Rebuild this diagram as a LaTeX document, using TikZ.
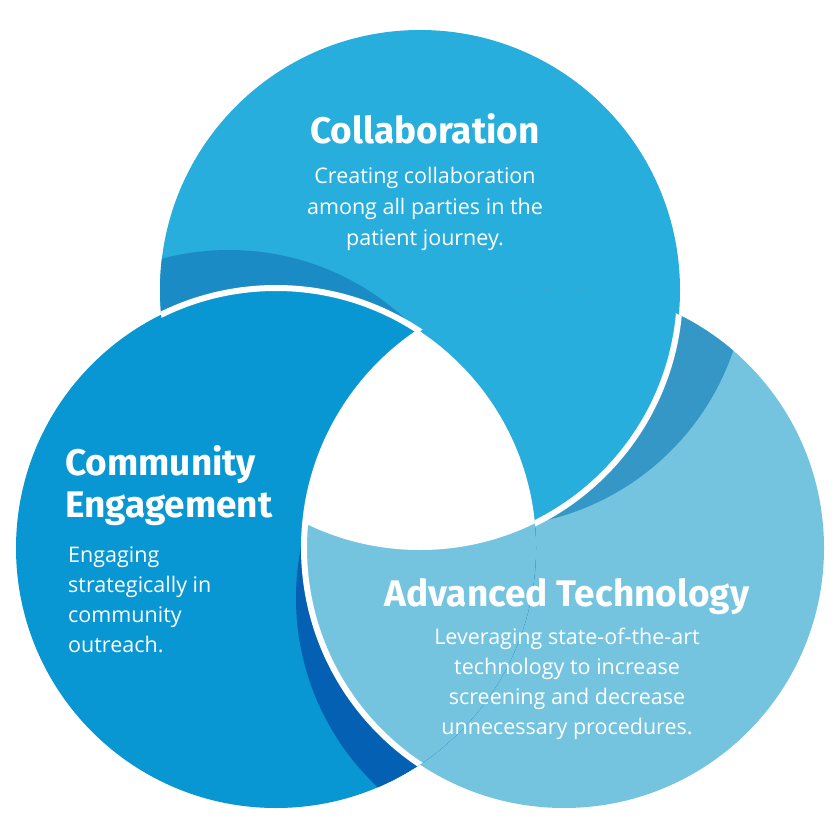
\documentclass[tikz,border=0pt]{standalone}
\usepackage{fontspec}
\setmainfont{Open Sans}
\newfontfamily\ttlfont{Fira Sans}
\definecolor{cT}{HTML}{27AEDC}
\definecolor{cL}{HTML}{0897D3}
\definecolor{cR}{HTML}{74C4E0}
\definecolor{sT}{HTML}{1A8BC4}
\definecolor{sR}{HTML}{3597C6}
\definecolor{sL}{HTML}{0360B2}
\begin{document}
\begin{tikzpicture}[x=1pt,y=-1pt,
  ttl/.style={text=white,inner sep=0pt,font=\ttlfont\bfseries\fontsize{37}{42}\selectfont},
  body/.style={text=white,inner sep=0pt,font=\fontsize{21.5}{30.5}\selectfont},
  border/.style={draw=white,line width=6pt}]
\useasboundingbox (0,0) rectangle (840,840);
\def\r{260}
\coordinate (T) at (420,290);
\coordinate (L) at (276,548);
\coordinate (R) at (564,548);
% disks
\fill[cT] (T) circle (\r);
\fill[cR] (R) circle (\r);
\fill[cL] (L) circle (\r);
% shadows
\begin{scope}\clip (T) circle (\r);
  \fill[sT] ([shift={(-47,-38)}]L) circle (\r);\end{scope}
\begin{scope}\clip (R) circle (\r);
  \fill[sR] ([shift={(67,-23)}]T) circle (\r);\end{scope}
\begin{scope}\clip (L) circle (\r);
  \fill[sL] ([shift={(-8,50)}]R) circle (\r);\end{scope}
% upper circle fills within lower ones
\begin{scope}\clip (T) circle (\r);
  \fill[cL] (L) circle (\r); \draw[border] (L) circle (\r);\end{scope}
\begin{scope}\clip (R) circle (\r);
  \fill[cT] (T) circle (\r); \draw[border] (T) circle (\r);\end{scope}
\begin{scope}\clip (L) circle (\r);
  \fill[cR] (R) circle (\r); \draw[border] (R) circle (\r);\end{scope}
% white centre
\begin{scope}\clip (T) circle (\r);\clip (L) circle (\r);
  \fill[white] (R) circle (\r);\end{scope}
% texts
\node[ttl,anchor=base] (t1) at (425,143) {Collaboration};
\node[body,align=center,anchor=base] (b1) at (425,183) {Creating collaboration};
\node[body,anchor=base] (b1b) at (425,214) {among all parties in the};
\node[body,anchor=base] (b1c) at (425,245) {patient journey.};
\node[ttl,anchor=base west] (t2) at (65,475) {Community};
\node[ttl,anchor=base west] (t2b) at (65,517) {Engagement};
\node[body,anchor=base west] (b2) at (68,562) {Engaging};
\node[body,anchor=base west] (b2b) at (68,592) {strategically in};
\node[body,anchor=base west] (b2c) at (68,622) {community};
\node[body,anchor=base west] (b2d) at (68,652) {outreach.};
\node[ttl,anchor=base] (t3) at (567,606) {Advanced Technology};
\node[body,anchor=base] (b3) at (567,644) {Leveraging state-of-the-art};
\node[body,anchor=base] (b3b) at (567,674) {technology to increase};
\node[body,anchor=base] (b3c) at (567,704) {screening and decrease};
\node[body,anchor=base] (b3d) at (567,734) {unnecessary procedures.};
\end{tikzpicture}
\end{document}
